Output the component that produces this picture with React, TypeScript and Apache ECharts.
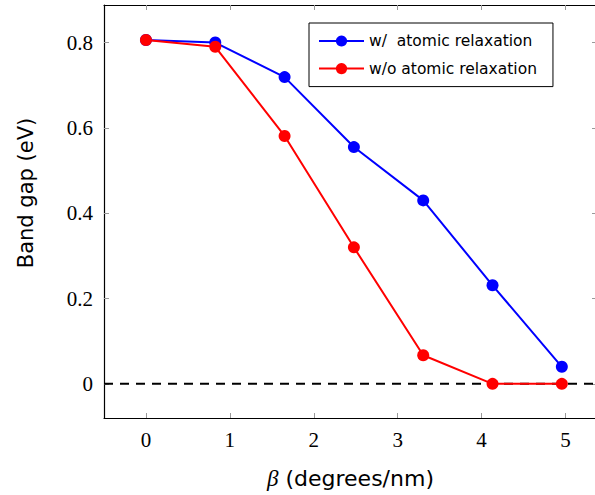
import React, { useEffect, useRef } from "react";
import * as echarts from "echarts";

const betaValues = [0, 0.826, 1.652, 2.478, 3.304, 4.13, 4.956];
const withRelax = [0.806, 0.8, 0.719, 0.555, 0.43, 0.231, 0.04];
const withoutRelax = [0.806, 0.79, 0.581, 0.32, 0.067, 0, 0];
const xTicks = [0, 1, 2, 3, 4, 5];
const yTicks = [0, 0.2, 0.4, 0.6, 0.8];
const seriesNames = ["w/  atomic relaxation", "w/o atomic relaxation"];
const yTitle = "Band gap (eV)";

export default function App() {
  const ref = useRef<HTMLDivElement>(null);
  useEffect(() => {
    if (!ref.current) return;
    const chart = echarts.init(ref.current, null, { renderer: "svg" });
    const serif = "Liberation Serif";
    const sans = "DejaVu Sans";
    const tickStyle = { show: true, inside: true, length: 5, lineStyle: { color: "#999", width: 1 } };
    const xBase = {
      type: "value",
      min: -0.5,
      max: 5.375,
      splitLine: { show: false },
      axisLine: { show: true, onZero: false, lineStyle: { color: "#000", width: 1.2 } },
    };
    const yBase = {
      type: "value",
      min: -0.08,
      max: 0.888,
      splitLine: { show: false },
      axisLine: { show: true, onZero: false, lineStyle: { color: "#000", width: 1.2 } },
    };
    chart.setOption({
      animation: false,
      backgroundColor: "#fff",
      grid: { left: 104, top: 5, bottom: 74, right: 3, containLabel: false },
      graphic: [
        {
          type: "text",
          x: 26,
          y: 193,
          rotation: Math.PI / 2,
          style: {
            text: yTitle,
            fontFamily: sans,
            fontSize: 21,
            fill: "#000",
            align: "center",
            verticalAlign: "middle",
          },
        },
      ],
      legend: {
        orient: "vertical",
        left: 309,
        top: 23,
        padding: [10, 16, 10, 9],
        itemGap: 11.6,
        itemWidth: 45,
        itemHeight: 14,
        borderColor: "#000",
        borderWidth: 1,
        backgroundColor: "#fff",
        textStyle: { fontFamily: sans, fontSize: 15.5, lineHeight: 16, color: "#000" },
        data: seriesNames,
      },
      xAxis: [
        {
          ...xBase,
          position: "bottom",
          axisTick: { ...tickStyle, customValues: xTicks },
          axisLabel: {
            customValues: xTicks,
            fontFamily: serif,
            fontSize: 21,
            color: "#000",
            margin: 11,
          },
          name: "{b|β} (degrees/nm)",
          nameLocation: "middle",
          nameGap: 49,
          nameTextStyle: {
            fontFamily: sans,
            fontSize: 22,
            color: "#000",
            rich: {
              b: { fontFamily: serif, fontStyle: "italic", fontSize: 23, color: "#000" },
            },
          },
        },
        {
          ...xBase,
          position: "top",
          axisTick: { ...tickStyle, customValues: xTicks },
          axisLabel: { show: false },
        },
      ],
      yAxis: [
        {
          ...yBase,
          position: "left",
          axisTick: { ...tickStyle, customValues: yTicks },
          axisLabel: {
            customValues: yTicks,
            fontFamily: serif,
            fontSize: 21,
            color: "#000",
            margin: 11,
            formatter: (v: number) => (v === 0 ? "0" : String(Math.round(v * 10) / 10)),
          },
        },
        {
          ...yBase,
          position: "right",
          axisTick: { ...tickStyle, customValues: yTicks },
          axisLabel: { show: false },
        },
      ],
      series: [
        {
          name: "zero",
          type: "line",
          data: [
            [-0.5, 0],
            [5.375, 0],
          ],
          symbol: "none",
          lineStyle: { color: "#000", width: 2, type: [9, 7] },
          silent: true,
          z: 1,
        },
        {
          name: seriesNames[0],
          type: "line",
          data: betaValues.map((x, i) => [x, withRelax[i]]),
          symbol: "circle",
          symbolSize: 12,
          color: "#0000ff",
          lineStyle: { color: "#0000ff", width: 2 },
          itemStyle: { color: "#0000ff" },
          z: 2,
        },
        {
          name: seriesNames[1],
          type: "line",
          data: betaValues.map((x, i) => [x, withoutRelax[i]]),
          symbol: "circle",
          symbolSize: 12,
          color: "#ff0000",
          lineStyle: { color: "#ff0000", width: 2 },
          itemStyle: { color: "#ff0000" },
          z: 3,
        },
      ],
    });
    return () => chart.dispose();
  }, []);
  return (
    <div style={{ position: "absolute", left: 0, top: 0, width: 595, height: 495, overflow: "hidden" }}>
      <div ref={ref} style={{ width: 600, height: 495 }} />
    </div>
  );
}
